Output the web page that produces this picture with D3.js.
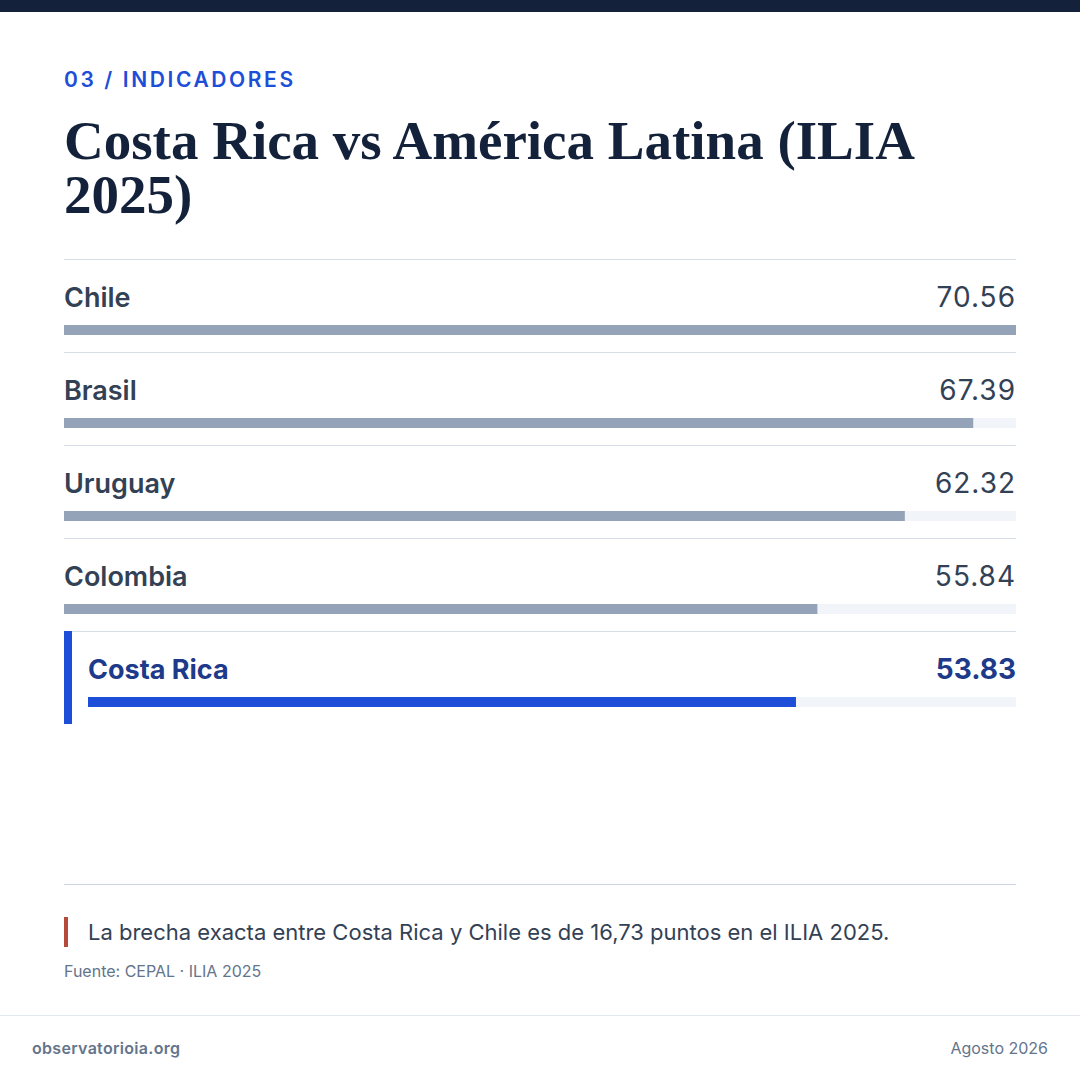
<!DOCTYPE html>
<html><head><meta charset="utf-8">
<script src="https://cdn.jsdelivr.net/npm/d3@7"></script>
<style>body{margin:0;background:#fff}svg{display:block}</style>
</head><body><svg id="chart" width="1080" height="1080"></svg>
<script>
const countries = ["Chile", "Brasil", "Uruguay", "Colombia", "Costa Rica"];
const scores = [70.56, 67.39, 62.32, 55.84, 53.83];
const highlight = "Costa Rica";

const svg = d3.select("#chart");
const sans = "Inter, 'Noto Sans', sans-serif";

svg.append("rect").attr("width", 1080).attr("height", 12).attr("fill", "#13223a");
svg.append("text").attr("x", 64).attr("y", 87).text("03 / INDICADORES")
  .attr("font-family", sans).attr("font-size", 21).attr("font-weight", 600)
  .attr("letter-spacing", 2.6).attr("fill", "#1d4ed8");
const title = svg.append("text").attr("font-family", "'Liberation Serif', serif")
  .attr("font-size", 55).attr("font-weight", 700).attr("fill", "#13223a");
title.append("tspan").attr("x", 64).attr("y", 159).text("Costa Rica vs America Latina (ILIA".replace("America", "América"));
title.append("tspan").attr("x", 64).attr("y", 213).text("2025)");

const rowH = 93, top0 = 259;
const y = d3.scaleBand().domain(countries).range([top0, top0 + rowH * countries.length]);
const maxV = d3.max(scores);

countries.forEach((c, i) => {
  const hi = c === highlight;
  const y0 = y(c);
  const x0 = hi ? 88 : 64;
  const x = d3.scaleLinear().domain([0, maxV]).range([x0, 1016]);
  const g = svg.append("g");
  g.append("line").attr("x1", 64).attr("x2", 1016).attr("y1", y0 + 0.5).attr("y2", y0 + 0.5)
    .attr("stroke", "#d5dde6");
  if (hi) g.append("rect").attr("x", 64).attr("y", y0).attr("width", 8).attr("height", rowH).attr("fill", "#1d4ed8");
  g.append("text").attr("x", x0).attr("y", y0 + 48).text(c)
    .attr("font-family", sans).attr("font-size", 27).attr("font-weight", hi ? 700 : 600)
    .attr("fill", hi ? "#1e3a8a" : "#334155");
  g.append("text").attr("x", 1016).attr("y", y0 + 48).attr("text-anchor", "end")
    .text(scores[i].toFixed(2))
    .attr("font-family", sans).attr("font-size", 28).attr("font-weight", hi ? 700 : 400)
    .attr("letter-spacing", hi ? 0 : 1)
    .attr("fill", hi ? "#1e3a8a" : "#334155");
  g.append("rect").attr("x", x0).attr("y", y0 + 66).attr("width", x(maxV) - x0).attr("height", 10).attr("fill", "#f1f5f9");
  g.append("rect").attr("x", x0).attr("y", y0 + 66).attr("width", x(scores[i]) - x0).attr("height", 10)
    .attr("fill", hi ? "#1d4ed8" : "#94a3b8");
});

svg.append("line").attr("x1", 64).attr("x2", 1016).attr("y1", 884.5).attr("y2", 884.5).attr("stroke", "#cbd5e1");
svg.append("rect").attr("x", 64).attr("y", 917).attr("width", 4).attr("height", 30).attr("fill", "#b5493a");
svg.append("text").attr("x", 88).attr("y", 940)
  .text("La brecha exacta entre Costa Rica y Chile es de 16,73 puntos en el ILIA 2025.")
  .attr("font-family", sans).attr("font-size", 22).attr("fill", "#334155");
svg.append("text").attr("x", 64).attr("y", 977).text("Fuente: CEPAL · ILIA 2025")
  .attr("font-family", sans).attr("font-size", 16).attr("fill", "#64748b");
svg.append("line").attr("x1", 0).attr("x2", 1080).attr("y1", 1015.5).attr("y2", 1015.5).attr("stroke", "#e2e8f0");
svg.append("text").attr("x", 32).attr("y", 1054).text("observatorioia.org")
  .attr("font-family", sans).attr("font-size", 16).attr("font-weight", 600).attr("letter-spacing", 0.3).attr("fill", "#64748b");
svg.append("text").attr("x", 1048).attr("y", 1054).attr("text-anchor", "end").text("Agosto 2026")
  .attr("font-family", sans).attr("font-size", 16).attr("fill", "#64748b");
</script></body></html>
